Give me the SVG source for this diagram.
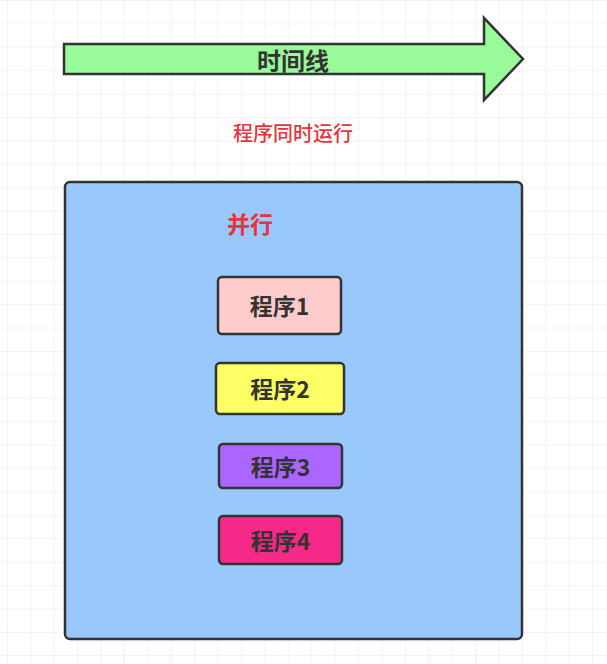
<svg xmlns="http://www.w3.org/2000/svg" width="607" height="664" viewBox="0 0 607 664">
  <defs>
    <pattern id="grid" x="7" y="0" width="23.4" height="23.4" patternUnits="userSpaceOnUse">
      <path d="M0 0V23.4M0 0H23.4" fill="none" stroke="#e8e8e8" stroke-width="1"/>
    </pattern>
    <style>
      .node rect { stroke: #333; stroke-width: 2.5; }
      .lbl { font-family: "Noto Sans CJK SC", "Liberation Sans", sans-serif; font-weight: bold; fill: #333; text-anchor: middle; dominant-baseline: central; }
      .red { font-family: "Noto Sans CJK SC", "Liberation Sans", sans-serif; fill: #e5343c; text-anchor: middle; dominant-baseline: central; }
    </style>
  </defs>
  <rect width="607" height="664" fill="#ffffff"/>
  <rect y="0" width="607" height="664" fill="url(#grid)"/>

  <g id="timeline">
    <path d="M64 44 H484 V18 L523 59 L484 100 V74 H64 Z" fill="#99fa99" stroke="#333" stroke-width="2.5" stroke-linejoin="miter"/>
    <text class="lbl" x="293" y="59" font-size="24">时间线</text>
  </g>

  <g id="caption">
    <text class="red" x="293" y="132" font-size="20" font-weight="500">程序同时运行</text>
  </g>

  <g id="parallel" class="node">
    <rect x="65" y="182" width="457" height="457" rx="5" fill="#99c9fc"/>
    <text class="red" x="250" y="223" font-size="23" font-weight="bold">并行</text>
  </g>

  <g id="p1" class="node">
    <rect x="218" y="277" width="123" height="57" rx="4" fill="#ffcccc"/>
    <text class="lbl" x="279.5" y="305" font-size="23">程序1</text>
  </g>
  <g id="p2" class="node">
    <rect x="216" y="363" width="128" height="51" rx="4" fill="#ffff66"/>
    <text class="lbl" x="280" y="388" font-size="23">程序2</text>
  </g>
  <g id="p3" class="node">
    <rect x="219" y="444" width="123" height="44" rx="4" fill="#ab66ff"/>
    <text class="lbl" x="280.5" y="466" font-size="23">程序3</text>
  </g>
  <g id="p4" class="node">
    <rect x="219" y="516" width="123" height="48" rx="4" fill="#f52a88"/>
    <text class="lbl" x="280.5" y="540" font-size="23">程序4</text>
  </g>

  <g id="connectors"></g>
</svg>
